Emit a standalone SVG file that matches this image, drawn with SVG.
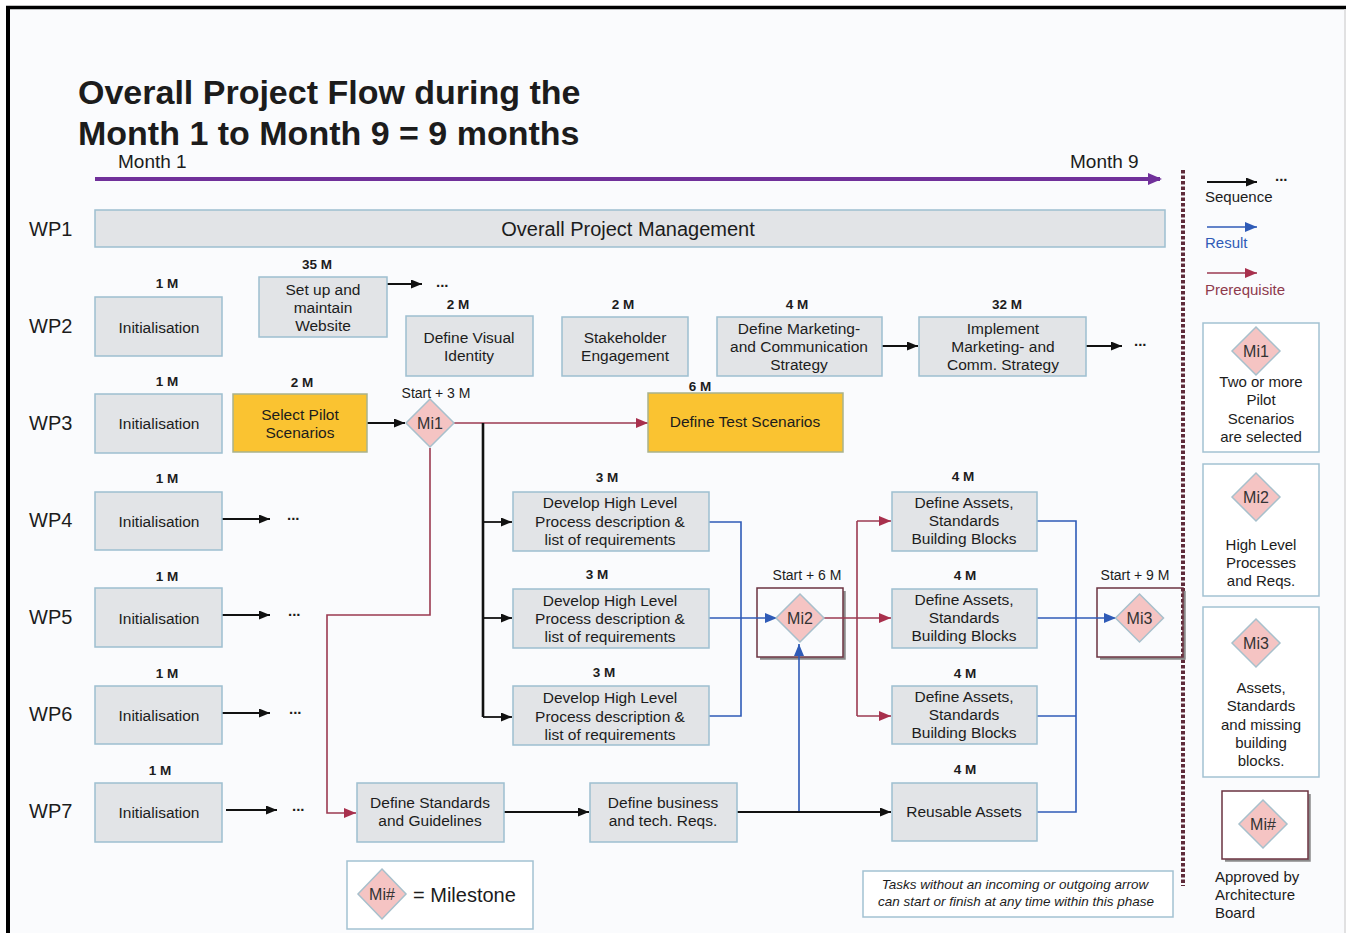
<svg xmlns="http://www.w3.org/2000/svg" width="1346" height="933" viewBox="0 0 1346 933">
<style>
text{font-family:"Liberation Sans",Arial,sans-serif;fill:#1c1c1c}
.bx{fill:#E2E4E7;stroke:#9DBFD0;stroke-width:1.5}
.yl{fill:#FAC331;stroke:#A9B38C;stroke-width:1.5}
.lg{fill:#FFFFFF;stroke:#A3C2D2;stroke-width:1.5}
.mb{fill:none;stroke:#6B3340;stroke-width:1.5}
.sh{fill:none;stroke:#8a8a8a;stroke-width:2.5}
.dia{fill:#F5C4C3;stroke:#A7C0CC;stroke-width:1.5}
.c{font-size:15.5px;text-anchor:middle}
.d{font-size:13.5px;font-weight:bold;text-anchor:middle}
.wp{font-size:20px}
.dots{font-size:15px;font-weight:bold}
.mi{font-size:16px;text-anchor:middle;fill:#333}
.sm{font-size:14px;text-anchor:middle}
.lt{font-size:15px;text-anchor:middle}
.k{stroke:#111;stroke-width:1.8;fill:none}
.b{stroke:#2F5BB7;stroke-width:1.6;fill:none}
.m{stroke:#9B3A50;stroke-width:1.6;fill:none}
</style>
<defs>
<marker id="ak" markerWidth="11" markerHeight="9" refX="11" refY="4.5" orient="auto" markerUnits="userSpaceOnUse"><path d="M0,0 L11,4.5 L0,9 Z" fill="#111"/></marker>
<marker id="ab" markerWidth="12" markerHeight="10" refX="12" refY="5" orient="auto" markerUnits="userSpaceOnUse"><path d="M0,0 L12,5 L0,10 Z" fill="#2F5BB7"/></marker>
<marker id="am" markerWidth="12" markerHeight="10" refX="12" refY="5" orient="auto" markerUnits="userSpaceOnUse"><path d="M0,0 L12,5 L0,10 Z" fill="#A8304D"/></marker>
<marker id="ap" markerWidth="14" markerHeight="12" refX="12" refY="6" orient="auto" markerUnits="userSpaceOnUse"><path d="M0,0 L14,6 L0,12 Z" fill="#70309A"/></marker>
<path id="dm" d="M0,-24 L24,0 L0,24 L-24,0 Z" class="dia"/>
</defs>

<rect x="0" y="0" width="1346" height="933" fill="#FFFFFF"/>
<rect x="8" y="8" width="1338" height="925" fill="#FAFBFD"/>
<line x1="6" y1="7.5" x2="1346" y2="7.5" stroke="#000" stroke-width="3.5"/>
<line x1="8" y1="6" x2="8" y2="933" stroke="#000" stroke-width="4"/>
<line x1="1345" y1="9" x2="1345" y2="933" stroke="#D8D8D8" stroke-width="1.5"/>

<g id="title">
<text x="78" y="104" font-size="34" font-weight="bold" fill="#000">Overall Project Flow during the</text>
<text x="78" y="145" font-size="34" font-weight="bold" fill="#000">Month 1 to Month 9 = 9 months</text>
</g>

<g id="timeline">
<text x="118" y="168" font-size="19">Month 1</text>
<text x="1070" y="168" font-size="19">Month 9</text>
<line x1="95" y1="179" x2="1160" y2="179" stroke="#70309A" stroke-width="4" marker-end="url(#ap)"/>
</g>

<g id="wp-labels">
<text class="wp" x="29" y="236">WP1</text>
<text class="wp" x="29" y="333">WP2</text>
<text class="wp" x="29" y="430">WP3</text>
<text class="wp" x="29" y="527">WP4</text>
<text class="wp" x="29" y="624">WP5</text>
<text class="wp" x="29" y="721">WP6</text>
<text class="wp" x="29" y="818">WP7</text>
</g>

<g id="separator">
<line x1="1183" y1="170" x2="1183" y2="886" stroke="#5E2B3A" stroke-width="4" stroke-dasharray="3.5,2"/>
</g>

<g id="milestone-frames">
<path class="sh" d="M760,658.5 H844.5 V591"/>
<rect class="mb" x="757" y="588" width="86" height="69"/>
<path class="sh" d="M1100,658.5 H1184.5 V591"/>
<rect class="mb" x="1097" y="588" width="86" height="69"/>
</g>

<g id="connectors">
<line class="k" x1="387" y1="284" x2="422" y2="284" marker-end="url(#ak)"/>
<line class="k" x1="882" y1="346" x2="918" y2="346" marker-end="url(#ak)"/>
<line class="k" x1="1086" y1="346" x2="1122" y2="346" marker-end="url(#ak)"/>
<line class="k" x1="367" y1="423" x2="405" y2="423" marker-end="url(#ak)"/>
<line class="m" x1="454" y1="423" x2="648" y2="423" marker-end="url(#am)"/>
<path d="M483,423 V717" stroke="#111" stroke-width="2.6" fill="none"/>
<line class="k" x1="483" y1="522" x2="512" y2="522" marker-end="url(#ak)"/>
<line class="k" x1="483" y1="618" x2="512" y2="618" marker-end="url(#ak)"/>
<line class="k" x1="483" y1="717" x2="512" y2="717" marker-end="url(#ak)"/>
<line class="k" x1="222" y1="519" x2="270" y2="519" marker-end="url(#ak)"/>
<line class="k" x1="222" y1="615" x2="270" y2="615" marker-end="url(#ak)"/>
<line class="k" x1="222" y1="713" x2="270" y2="713" marker-end="url(#ak)"/>
<line class="k" x1="226" y1="810" x2="277" y2="810" marker-end="url(#ak)"/>
<path class="b" d="M709,522 H741 V716 H709"/>
<line class="b" x1="709" y1="618" x2="777" y2="618" marker-end="url(#ab)"/>
<path class="b" d="M799,812 V644" marker-end="url(#ab)"/>
<path class="m" d="M857,521 V716"/>
<line class="m" x1="823" y1="618" x2="891" y2="618" marker-end="url(#am)"/>
<line class="m" x1="857" y1="521" x2="891" y2="521" marker-end="url(#am)"/>
<line class="m" x1="857" y1="716" x2="891" y2="716" marker-end="url(#am)"/>
<path class="b" d="M1037,521 H1076 V812 H1037"/>
<line class="b" x1="1037" y1="716" x2="1076" y2="716"/>
<line class="b" x1="1037" y1="618" x2="1116" y2="618" marker-end="url(#ab)"/>
<path class="m" d="M430,448 V615 H327 V813 H356" marker-end="url(#am)"/>
<line class="k" x1="504" y1="812" x2="589" y2="812" marker-end="url(#ak)"/>
<line class="k" x1="737" y1="812" x2="891" y2="812" marker-end="url(#ak)"/>
<text class="dots" x="436" y="287">...</text>
<text class="dots" x="1134" y="346">...</text>
<text class="dots" x="287" y="520">...</text>
<text class="dots" x="288" y="616">...</text>
<text class="dots" x="289" y="714">...</text>
<text class="dots" x="292" y="811">...</text>
</g>

<g id="wp1-mgmt">
<rect class="bx" x="95" y="210" width="1070" height="37"/>
<text x="628" y="236" font-size="20" text-anchor="middle">Overall Project Management</text>
</g>

<g id="wp2-init">
<text class="d" x="167" y="288">1 M</text>
<rect class="bx" x="95" y="297" width="127" height="59"/>
<text class="c" x="159" y="333">Initialisation</text>
</g>
<g id="wp2-website">
<text class="d" x="317" y="269">35 M</text>
<rect class="bx" x="259" y="277" width="128" height="60"/>
<text class="c" x="323" y="295">Set up and</text>
<text class="c" x="323" y="313">maintain</text>
<text class="c" x="323" y="331">Website</text>
</g>
<g id="wp2-visual">
<text class="d" x="458" y="309">2 M</text>
<rect class="bx" x="406" y="316" width="127" height="60"/>
<text class="c" x="469" y="343">Define Visual</text>
<text class="c" x="469" y="361">Identity</text>
</g>
<g id="wp2-stakeholder">
<text class="d" x="623" y="309">2 M</text>
<rect class="bx" x="562" y="317" width="126" height="59"/>
<text class="c" x="625" y="343">Stakeholder</text>
<text class="c" x="625" y="361">Engagement</text>
</g>
<g id="wp2-marketing">
<text class="d" x="797" y="309">4 M</text>
<rect class="bx" x="717" y="317" width="165" height="59"/>
<text class="c" x="799" y="334">Define Marketing-</text>
<text class="c" x="799" y="352">and Communication</text>
<text class="c" x="799" y="370">Strategy</text>
</g>
<g id="wp2-implement">
<text class="d" x="1007" y="309">32 M</text>
<rect class="bx" x="919" y="317" width="167" height="59"/>
<text class="c" x="1003" y="334">Implement</text>
<text class="c" x="1003" y="352">Marketing- and</text>
<text class="c" x="1003" y="370">Comm. Strategy</text>
</g>

<g id="wp3-init">
<text class="d" x="167" y="386">1 M</text>
<rect class="bx" x="95" y="394" width="127" height="59"/>
<text class="c" x="159" y="429">Initialisation</text>
</g>
<g id="wp3-pilot">
<text class="d" x="302" y="387">2 M</text>
<rect class="yl" x="233" y="394" width="134" height="58"/>
<text class="c" x="300" y="420">Select Pilot</text>
<text class="c" x="300" y="438">Scenarios</text>
</g>
<g id="mi1">
<text class="sm" x="436" y="398">Start + 3 M</text>
<use href="#dm" transform="translate(430,423)"/>
<text class="mi" x="430" y="429">Mi1</text>
</g>
<g id="wp3-test">
<text class="d" x="700" y="391">6 M</text>
<rect class="yl" x="648" y="393" width="195" height="59"/>
<text class="c" x="745" y="427">Define Test Scenarios</text>
</g>

<g id="wp4-init">
<text class="d" x="167" y="483">1 M</text>
<rect class="bx" x="95" y="492" width="127" height="58"/>
<text class="c" x="159" y="527">Initialisation</text>
</g>
<g id="wp4-develop">
<text class="d" x="607" y="482">3 M</text>
<rect class="bx" x="513" y="492" width="196" height="59"/>
<text class="c" x="610" y="508">Develop High Level</text>
<text class="c" x="610" y="526.5">Process description &amp;</text>
<text class="c" x="610" y="545">list of requirements</text>
</g>
<g id="wp4-assets">
<text class="d" x="963" y="481">4 M</text>
<rect class="bx" x="892" y="492" width="145" height="59"/>
<text class="c" x="964" y="508">Define Assets,</text>
<text class="c" x="964" y="526">Standards</text>
<text class="c" x="964" y="544">Building Blocks</text>
</g>

<g id="wp5-init">
<text class="d" x="167" y="581">1 M</text>
<rect class="bx" x="95" y="588" width="127" height="59"/>
<text class="c" x="159" y="624">Initialisation</text>
</g>
<g id="wp5-develop">
<text class="d" x="597" y="579">3 M</text>
<rect class="bx" x="513" y="589" width="196" height="59"/>
<text class="c" x="610" y="606">Develop High Level</text>
<text class="c" x="610" y="624">Process description &amp;</text>
<text class="c" x="610" y="642">list of requirements</text>
</g>
<g id="mi2">
<text class="sm" x="807" y="580">Start + 6 M</text>
<use href="#dm" transform="translate(800,618)"/>
<text class="mi" x="800" y="624">Mi2</text>
</g>
<g id="wp5-assets">
<text class="d" x="965" y="580">4 M</text>
<rect class="bx" x="892" y="589" width="145" height="59"/>
<text class="c" x="964" y="605">Define Assets,</text>
<text class="c" x="964" y="623">Standards</text>
<text class="c" x="964" y="641">Building Blocks</text>
</g>
<g id="mi3">
<text class="sm" x="1135" y="580">Start + 9 M</text>
<use href="#dm" transform="translate(1139.5,618)"/>
<text class="mi" x="1139.5" y="624">Mi3</text>
</g>

<g id="wp6-init">
<text class="d" x="167" y="678">1 M</text>
<rect class="bx" x="95" y="686" width="127" height="58"/>
<text class="c" x="159" y="721">Initialisation</text>
</g>
<g id="wp6-develop">
<text class="d" x="604" y="677">3 M</text>
<rect class="bx" x="513" y="686" width="196" height="59"/>
<text class="c" x="610" y="703">Develop High Level</text>
<text class="c" x="610" y="721.5">Process description &amp;</text>
<text class="c" x="610" y="740">list of requirements</text>
</g>
<g id="wp6-assets">
<text class="d" x="965" y="678">4 M</text>
<rect class="bx" x="892" y="686" width="145" height="58"/>
<text class="c" x="964" y="702">Define Assets,</text>
<text class="c" x="964" y="720">Standards</text>
<text class="c" x="964" y="738">Building Blocks</text>
</g>

<g id="wp7-init">
<text class="d" x="160" y="775">1 M</text>
<rect class="bx" x="95" y="783" width="127" height="59"/>
<text class="c" x="159" y="818">Initialisation</text>
</g>
<g id="wp7-standards">
<rect class="bx" x="357" y="783" width="147" height="59"/>
<text class="c" x="430" y="808">Define Standards</text>
<text class="c" x="430" y="826">and Guidelines</text>
</g>
<g id="wp7-business">
<rect class="bx" x="590" y="783" width="147" height="59"/>
<text class="c" x="663" y="808">Define business</text>
<text class="c" x="663" y="826">and tech. Reqs.</text>
</g>
<g id="wp7-reusable">
<text class="d" x="965" y="774">4 M</text>
<rect class="bx" x="892" y="783" width="145" height="58"/>
<text class="c" x="964" y="817">Reusable Assets</text>
</g>

<g id="legend-milestone">
<rect class="lg" x="347" y="861" width="186" height="68"/>
<use href="#dm" transform="translate(382,894) scale(1,1.04)"/>
<text class="mi" x="382" y="900">Mi#</text>
<text x="413" y="902" font-size="20">= Milestone</text>
</g>

<g id="note">
<rect class="lg" x="863" y="871" width="310" height="46"/>
<text x="1015" y="889" font-size="13.5" font-style="italic" text-anchor="middle">Tasks without an incoming or outgoing arrow</text>
<text x="1016" y="906" font-size="13.5" font-style="italic" text-anchor="middle">can start or finish at any time within this phase</text>
</g>

<g id="legend-arrows">
<line class="k" x1="1207" y1="182" x2="1257" y2="182" marker-end="url(#ak)"/>
<text class="dots" x="1275" y="181">...</text>
<text x="1205" y="202" font-size="15">Sequence</text>
<line class="b" x1="1207" y1="227" x2="1257" y2="227" marker-end="url(#ab)"/>
<text x="1205" y="248" font-size="15" style="fill:#2F5BB7">Result</text>
<line class="m" x1="1207" y1="273" x2="1257" y2="273" marker-end="url(#am)"/>
<text x="1205" y="295" font-size="15" style="fill:#8E3A4C">Prerequisite</text>
</g>

<g id="legend-mi1">
<rect class="lg" x="1203" y="323" width="116" height="129"/>
<use href="#dm" transform="translate(1256,351)"/>
<text class="mi" x="1256" y="357">Mi1</text>
<text class="lt" x="1261" y="387">Two or more</text>
<text class="lt" x="1261" y="405">Pilot</text>
<text class="lt" x="1261" y="424">Scenarios</text>
<text class="lt" x="1261" y="442">are selected</text>
</g>
<g id="legend-mi2">
<rect class="lg" x="1203" y="464" width="116" height="132"/>
<use href="#dm" transform="translate(1256,497)"/>
<text class="mi" x="1256" y="503">Mi2</text>
<text class="lt" x="1261" y="550">High Level</text>
<text class="lt" x="1261" y="568">Processes</text>
<text class="lt" x="1261" y="586">and Reqs.</text>
</g>
<g id="legend-mi3">
<rect class="lg" x="1203" y="607" width="116" height="170"/>
<use href="#dm" transform="translate(1256,643)"/>
<text class="mi" x="1256" y="649">Mi3</text>
<text class="lt" x="1261" y="693">Assets,</text>
<text class="lt" x="1261" y="711">Standards</text>
<text class="lt" x="1261" y="730">and missing</text>
<text class="lt" x="1261" y="748">building</text>
<text class="lt" x="1261" y="766">blocks.</text>
</g>
<g id="legend-board">
<path class="sh" d="M1225,860.5 H1309.5 V794"/>
<rect x="1222" y="791" width="86" height="68" fill="#FFFFFF" stroke="#6B3340" stroke-width="1.5"/>
<use href="#dm" transform="translate(1263,824)"/>
<text class="mi" x="1263" y="830">Mi#</text>
<text x="1215" y="882" font-size="15">Approved by</text>
<text x="1215" y="900" font-size="15">Architecture</text>
<text x="1215" y="918" font-size="15">Board</text>
</g>
</svg>
